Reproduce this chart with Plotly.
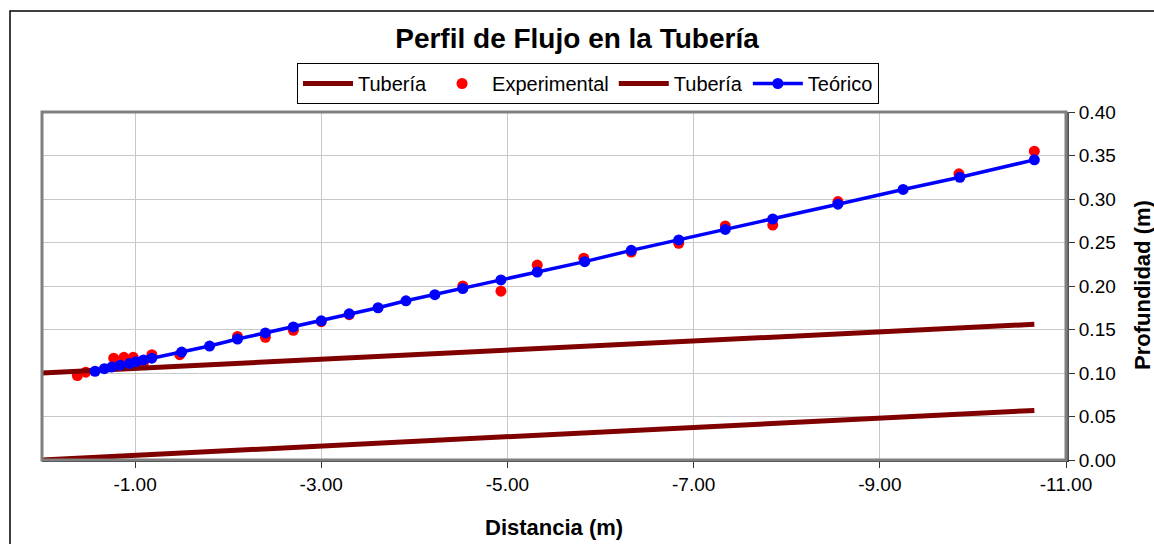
import plotly.graph_objects as go

# ---- data ----
pipe_x = [0.0, -10.66]
pipe_bottom = [0.0, 0.057]
pipe_top = [0.100, 0.156]

exp_x = [-0.38, -0.47, -0.77, -0.88, -0.98, -1.09, -1.18, -1.48, -2.10, -2.40,
         -2.70, -3.00, -3.30, -4.52, -4.93, -5.32, -5.82, -6.33, -6.84, -7.34,
         -7.85, -8.55, -9.85, -10.66]
exp_y = [0.097, 0.101, 0.117, 0.118, 0.118, 0.112, 0.121, 0.121, 0.142, 0.141,
         0.149, 0.159, 0.167, 0.200, 0.194, 0.224, 0.232, 0.239, 0.249, 0.269,
         0.270, 0.297, 0.329, 0.355]

teo_x = [-0.57, -0.67, -0.75, -0.84, -0.94, -1.01, -1.09, -1.18, -1.50, -1.80,
         -2.10, -2.40, -2.70, -3.00, -3.30, -3.61, -3.91, -4.22, -4.52, -4.93,
         -5.32, -5.83, -6.33, -6.84, -7.34, -7.85, -8.55, -9.25, -9.86, -10.66]
teo_y = [0.102, 0.105, 0.107, 0.109, 0.111, 0.113, 0.115, 0.117, 0.124, 0.131,
         0.139, 0.146, 0.153, 0.160, 0.168, 0.175, 0.183, 0.190, 0.197, 0.207,
         0.216, 0.228, 0.241, 0.253, 0.265, 0.277, 0.294, 0.311, 0.325, 0.345]

x_tickvals = [-1, -3, -5, -7, -9, -11]
x_ticktext = ["-1.00", "-3.00", "-5.00", "-7.00", "-9.00", "-11.00"]
y_tickvals = [0.0, 0.05, 0.10, 0.15, 0.20, 0.25, 0.30, 0.35, 0.40]
y_ticktext = ["0.00", "0.05", "0.10", "0.15", "0.20", "0.25", "0.30", "0.35", "0.40"]

FONT = "Liberation Sans, Arial, sans-serif"
MAROON = "#800000"

fig = go.Figure()
fig.add_trace(go.Scatter(x=pipe_x, y=pipe_bottom, mode="lines", name="Tubería",
                         line=dict(color=MAROON, width=5)))
fig.add_trace(go.Scatter(x=exp_x, y=exp_y, mode="markers", name="Experimental",
                         marker=dict(color="#FF0000", size=11)))
fig.add_trace(go.Scatter(x=pipe_x, y=pipe_top, mode="lines", name="Tubería",
                         line=dict(color=MAROON, width=5)))
fig.add_trace(go.Scatter(x=teo_x, y=teo_y, mode="lines+markers", name="Teórico",
                         line=dict(color="#0000FF", width=3.5),
                         marker=dict(color="#0000FF", size=11)))

L, R, T, B = 42, 88, 112, 84
W, H = 1154, 544
pw, ph = W - L - R, H - T - B

def px2paper_x(px):
    return (px - L) / pw

def px2paper_y(py):
    return (H - B - py) / ph

fig.update_layout(
    width=W, height=H,
    margin=dict(l=L, r=R, t=T, b=B),
    paper_bgcolor="white", plot_bgcolor="white",
    font=dict(family=FONT, size=19, color="black"),
    title=dict(text="<b>Perfil de Flujo en la Tubería</b>", x=0.5, xanchor="center",
               y=1 - 38 / H, yanchor="middle", font=dict(size=28, family=FONT)),
    showlegend=True,
    legend=dict(orientation="h", x=px2paper_x(588), xanchor="center",
                y=px2paper_y(63), yanchor="top",
                bordercolor="black", borderwidth=1, bgcolor="white",
                font=dict(size=20, family=FONT), itemwidth=50,
                tracegroupgap=0),
    xaxis=dict(range=[0, -11], tickvals=x_tickvals, ticktext=x_ticktext,
               showgrid=True, gridcolor="#C8C8C8", gridwidth=1,
               zeroline=False, showline=True, linecolor="#333333", linewidth=2,
               ticks="outside", ticklen=6, tickcolor="#333333",
               tickfont=dict(size=19)),
    yaxis=dict(range=[0, 0.40], side="right", tickvals=y_tickvals, ticktext=y_ticktext,
               showgrid=True, gridcolor="#C8C8C8", gridwidth=1,
               zeroline=False, showline=True, linecolor="#555555", linewidth=3,
               ticks="outside", ticklen=6, tickcolor="#333333",
               tickfont=dict(size=19)),
    shapes=[
        dict(type="rect", xref="paper", yref="paper", x0=0, x1=1, y0=0, y1=1,
             line=dict(color="#808080", width=3), layer="above"),
        dict(type="rect", xref="paper", yref="paper",
             x0=px2paper_x(10), x1=px2paper_x(1165),
             y0=px2paper_y(560), y1=px2paper_y(11),
             line=dict(color="black", width=1.5)),
    ],
    annotations=[
        dict(text="<b>Distancia (m)</b>", xref="paper", yref="paper",
             x=0.5, y=px2paper_y(527), xanchor="center", yanchor="middle",
             showarrow=False, font=dict(size=22, family=FONT)),
        dict(text="<b>Profundidad (m)</b>", xref="paper", yref="paper",
             x=px2paper_x(1142), y=px2paper_y(285), xanchor="center", yanchor="middle",
             textangle=-90, showarrow=False, font=dict(size=22, family=FONT)),
    ],
)

fig.write_html("out.html", config={"displayModeBar": False},
               post_script="document.body.style.margin='0';document.body.style.overflow='hidden';")
